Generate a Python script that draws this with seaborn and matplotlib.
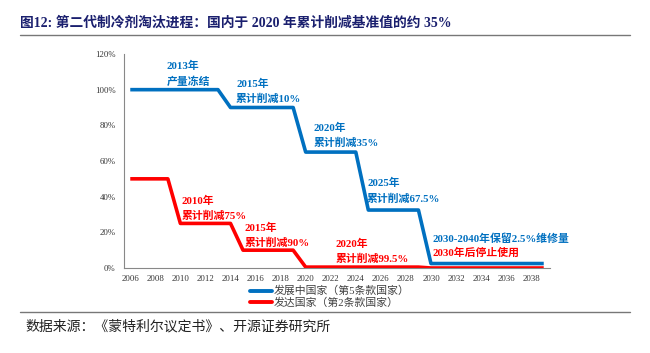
import matplotlib
matplotlib.use("Agg")
import matplotlib.pyplot as plt
import seaborn as sns
import pandas as pd
from matplotlib.lines import Line2D

years = list(range(2006, 2040))
developing = [100]*8 + [90]*6 + [65]*5 + [32.5]*5 + [2.5]*10
developed = [50]*4 + [25]*5 + [10]*5 + [0.5]*10 + [0]*10
series_names = ["发展中国家（第5条款国家）", "发达国家（第2条款国家）"]
colors = ["#0070C0", "#FF0000"]
xticks = list(range(2006, 2039, 2))
yticks = [0, 20, 40, 60, 80, 100, 120]

title = "图12: 第二代制冷剂淘汰进程：国内于 2020 年累计削减基准值的约 35%"
source = "数据来源：《蒙特利尔议定书》、开源证券研究所"

blue_notes = [("2013年\n产量冻结", 2008.9, 108.8),
              ("2015年\n累计削减10%", 2014.45, 99.0),
              ("2020年\n累计削减35%", 2020.6, 74.3),
              ("2025年\n累计削减67.5%", 2024.9, 43.2),
              ("2030-2040年保留2.5%维修量", 2030.15, 16.3)]
red_notes = [("2010年\n累计削减75%", 2010.1, 33.4),
             ("2015年\n累计削减90%", 2015.15, 18.5),
             ("2020年\n累计削减99.5%", 2022.4, 9.3),
             ("2030年后停止使用", 2030.15, 8.4)]

df = pd.DataFrame({
    "year": years * 2,
    "value": developing + developed,
    "series": [series_names[0]] * len(years) + [series_names[1]] * len(years),
})

sns.set_style("white")
plt.rcParams["font.family"] = ["Liberation Serif", "Noto Sans CJK SC", "DejaVu Sans"]
plt.rcParams["axes.unicode_minus"] = False

fig = plt.figure(figsize=(6.5, 3.53), dpi=100)
ax = fig.add_axes([124/650, 1-268/353, (550-124)/650, (268-54)/353])

sns.lineplot(data=df, x="year", y="value", hue="series", palette=colors,
             hue_order=series_names, linewidth=2.6, legend=False, ax=ax,
             solid_capstyle="butt")

ax.set_xlim(2005.5, 2039.5)
ax.set_ylim(0, 120)
ax.set_xticks(xticks)
ax.set_xticklabels([str(x) for x in xticks], fontsize=6.3, family="Liberation Serif")
ax.set_yticks(yticks)
ax.set_yticklabels([f"{y}%" for y in yticks], fontsize=6.3, family="Liberation Serif")
ax.set_xlabel("")
ax.set_ylabel("")
for s in ["top", "right"]:
    ax.spines[s].set_visible(False)
for s in ["left", "bottom"]:
    ax.spines[s].set_color("#888888")
    ax.spines[s].set_linewidth(0.8)
ax.tick_params(axis="y", which="major", length=3, width=0.8, color="#888888", pad=3, labelcolor="#333333")
ax.tick_params(axis="x", which="major", length=0, pad=5, labelcolor="#333333")
ax.grid(False)

fam = ["Liberation Serif", "Noto Sans CJK SC"]
for txt, x, y in blue_notes:
    ax.text(x, y, txt, color=colors[0], fontsize=7.8, fontweight="bold", family=fam,
            ha="left", va="center", linespacing=1.6)
for txt, x, y in red_notes:
    ax.text(x, y, txt, color=colors[1], fontsize=7.8, fontweight="bold", family=fam,
            ha="left", va="center", linespacing=1.6)

handles = [Line2D([0], [0], color=c, lw=2.8) for c in colors]
leg = fig.legend(handles, series_names, loc="center", bbox_to_anchor=(330/650, 1-297/353),
                 frameon=False, handlelength=2.0, handletextpad=0.2,
                 labelspacing=0.12, prop={"family": fam, "size": 7.8})
for t in leg.get_texts():
    t.set_color("#404040")

fig.text(20/650, 1-23/353, title, fontsize=9.9, fontweight="bold", color="#1a1f6e",
         family=fam, ha="left", va="center")
fig.add_artist(Line2D([20/650, 630/650], [1-35/353, 1-35/353], color="#777777", lw=1.0))
fig.add_artist(Line2D([20/650, 630/650], [1-312/353, 1-312/353], color="#777777", lw=1.0))
fig.text(25/650, 1-327/353, source, fontsize=10, color="#222222", family=fam,
         ha="left", va="center")

fig.savefig("out.png", dpi=100)
